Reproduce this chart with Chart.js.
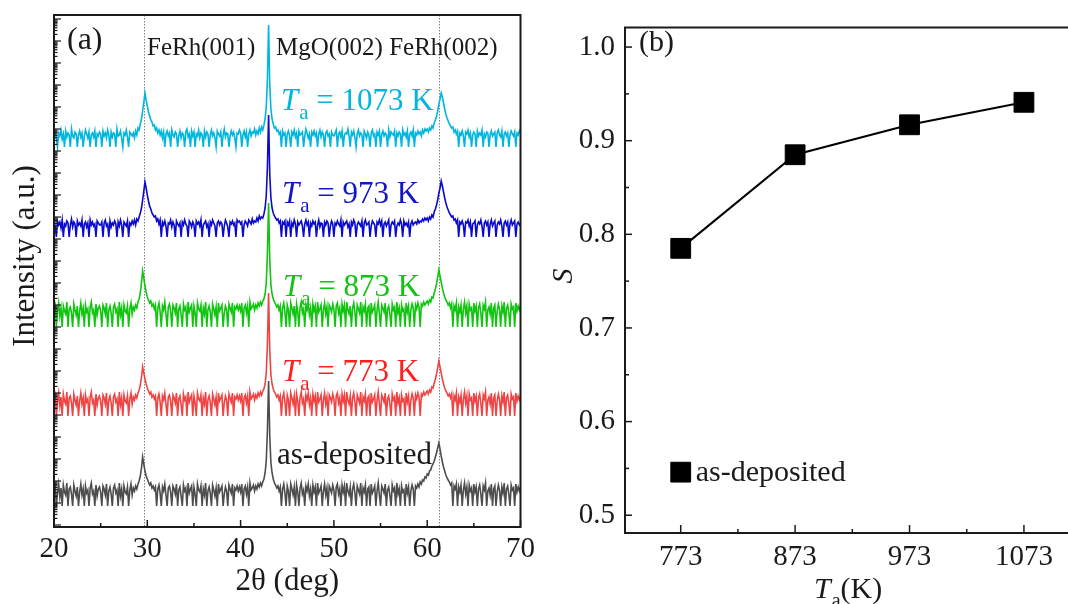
<!DOCTYPE html>
<html>
<head>
<meta charset="utf-8">
<script src="https://cdn.jsdelivr.net/npm/chart.js@4/dist/chart.umd.min.js"></script>
<style>
html, body { margin: 0; padding: 0; background: #fff; overflow: hidden; }
#wrap { position: relative; width: 1068px; height: 604px; }
canvas { position: absolute; top: 0; }
#xrd { left: 0; }
#order { left: 540px; }
</style>
</head>
<body>
<div id="wrap">
	<canvas id="xrd" width="540" height="604"></canvas>
	<canvas id="order" width="528" height="604"></canvas>
</div>
<script>
// (a) XRD scans, 20..70 deg in 0.125 deg steps, one row = 5 deg.
// Intensities in a.u. above each trace's floor; traces are stacked with scanOffsets.
const twoThetaStart = 20
const twoThetaStep = 0.125
const twoThetaTicks = [20, 30, 40, 50, 60, 70]
const peakLines = [29.65, 61.25] // FeRh(001), FeRh(002)
const scanOffsets = [380, 290, 200, 111, 21]

const scan1073 = [
	12,15,9,0,14,11,17,8,13,0,16,10,14,12,0,18,11,9,15,13,0,12,16,10,14,0,11,17,13,9,15,0,12,14,10,16,0,13,11,15,
	13,0,16,11,14,9,17,12,0,15,10,14,13,0,18,11,12,16,9,0,14,12,17,10,0,15,13,11,14,9,16,12,19,17,23,28,36,45,54,47,
	41,35,31,27,25,21,22,17,19,14,17,12,16,9,15,0,13,16,11,14,0,17,12,10,15,13,0,11,16,9,14,12,0,15,18,10,13,0,16,11,
	15,0,13,11,17,9,14,12,0,16,10,15,13,0,12,17,11,14,9,0,16,13,11,15,0,12,18,10,14,13,0,11,16,12,15,9,0,14,13,17,
	14,0,12,16,10,15,0,13,17,11,15,14,18,12,16,13,19,15,20,17,22,28,40,68,122,62,38,28,23,19,20,16,17,13,15,0,16,12,14,0,
	13,16,11,0,15,12,17,10,14,0,16,12,13,15,0,11,18,14,9,13,0,15,12,16,11,14,0,13,17,10,15,12,0,14,16,11,13,0,15,12,
	11,14,17,0,13,15,10,16,0,12,14,13,18,11,0,15,12,16,10,0,13,17,11,14,12,0,16,13,9,15,12,0,14,17,11,13,0,15,12,16,
	0,13,16,11,14,12,0,17,10,15,13,12,16,0,14,11,15,13,0,17,12,14,10,16,0,13,15,11,17,0,14,12,16,13,15,11,17,14,18,16,
	18,15,19,17,21,19,24,27,31,36,43,48,54,50,44,38,33,29,26,23,21,19,20,15,17,13,16,0,14,12,16,11,0,15,13,17,10,14,0,12,
	15,13,0,16,11,14,12,17,0,13,10,15,14,0,12,16,11,13,15,0,14,17,12,10,16,0,13,15,11,14,0,12,16,13,11,15,0,14,12,16,
	13,
]
const scan973 = [
	14,11,0,16,12,15,9,17,0,13,11,16,14,0,12,18,10,15,13,0,16,12,14,11,17,0,13,15,10,14,0,17,12,15,11,13,0,16,14,12,
	12,15,0,14,17,11,13,0,16,10,14,12,16,13,0,15,11,17,12,0,15,13,11,16,0,14,12,16,13,17,12,18,16,20,24,29,37,46,55,49,
	42,36,31,28,24,22,20,21,16,18,13,17,0,15,12,16,11,0,14,13,17,10,15,12,0,16,13,11,14,0,15,12,17,13,11,0,16,14,10,15,
	12,0,16,13,15,11,17,0,12,14,16,10,13,0,15,12,17,14,11,0,14,16,12,15,13,0,11,17,14,10,0,15,13,16,12,14,0,17,15,16,
	13,15,0,12,16,14,11,17,15,13,18,14,16,15,19,16,21,18,20,19,23,29,41,70,122,63,39,29,24,21,19,17,18,14,16,0,15,13,16,0,
	15,12,16,0,14,11,17,13,0,15,12,14,16,11,0,13,17,12,15,0,14,11,16,13,15,0,12,17,10,14,13,0,15,12,16,14,0,11,16,13,
	0,14,12,16,13,11,17,0,15,12,14,16,10,13,0,15,12,17,14,0,12,15,13,11,16,0,14,17,12,13,15,0,11,16,14,12,0,15,13,17,
	12,16,0,13,15,11,14,17,0,12,15,13,16,0,11,14,12,17,13,0,16,12,14,11,15,0,13,16,12,14,15,13,17,14,16,15,18,16,19,17,
	19,16,20,18,22,20,25,28,32,37,44,49,56,51,45,39,34,30,27,24,22,20,21,17,18,14,17,0,15,13,16,12,0,15,14,17,11,15,0,13,
	14,16,0,12,15,13,17,11,0,14,16,12,15,0,13,17,11,14,16,0,12,15,13,17,11,0,14,16,12,15,0,13,17,12,14,16,0,13,15,12,
	14,
]
const scan873 = [
	18,22,0,15,24,11,19,0,21,16,13,25,0,18,20,14,0,23,17,12,21,0,16,24,13,19,0,22,15,18,0,20,25,14,17,0,23,12,19,21,
	16,0,22,19,13,24,0,17,21,14,0,20,23,15,18,0,25,12,19,0,22,16,14,21,0,18,24,13,20,17,22,19,25,28,34,44,56,49,41,35,
	30,27,24,26,21,23,18,22,0,19,24,15,0,21,17,25,13,0,20,23,16,0,22,19,14,24,0,18,21,12,0,23,17,20,0,25,15,19,22,0,
	21,14,0,24,18,16,22,0,19,13,25,0,17,21,15,0,23,18,12,20,0,24,16,19,22,0,14,21,17,0,23,19,15,24,0,20,18,22,17,21,
	16,24,0,19,22,14,21,0,25,18,20,23,17,22,19,24,21,25,22,26,28,33,44,74,124,67,42,33,28,25,23,20,22,17,21,0,19,24,15,0,
	22,17,0,24,19,13,21,0,23,16,0,20,25,14,18,0,22,17,24,12,19,0,23,16,21,0,25,15,18,22,0,17,24,13,20,0,22,19,15,23,
	18,0,21,24,14,19,0,23,16,22,0,25,17,13,21,0,19,24,15,0,22,18,14,25,0,20,16,23,0,19,21,0,24,15,18,22,0,17,25,13,
	0,22,19,15,24,0,18,21,13,0,23,17,20,0,25,14,19,0,22,16,18,0,24,15,21,0,17,23,19,0,22,18,24,20,0,23,21,25,22,24,
	26,23,27,25,30,29,34,38,43,50,57,51,45,39,34,30,27,25,22,24,19,23,0,21,17,24,0,20,15,22,0,18,25,14,21,0,23,17,19,0,
	24,16,21,0,19,23,14,0,22,18,25,0,17,20,13,24,0,19,22,0,16,23,18,0,21,15,25,0,19,22,14,0,23,18,20,0,24,16,21,17,
	21,
]
const scan773 = [
	17,21,0,14,23,10,19,0,22,15,12,24,0,18,20,13,0,22,16,11,20,0,15,23,12,18,0,21,14,17,0,19,24,13,16,0,22,11,18,20,
	15,0,21,18,12,23,0,16,20,13,0,19,22,14,17,0,24,11,18,0,21,15,13,20,0,17,23,12,19,16,21,18,23,26,31,39,49,43,37,32,
	28,25,22,24,19,21,17,20,0,18,22,14,0,20,16,23,12,0,19,21,15,0,21,18,13,23,0,17,20,11,0,22,16,19,0,24,14,18,21,0,
	20,13,0,23,17,15,21,0,18,12,24,0,16,20,14,0,22,17,11,19,0,23,15,18,21,0,13,20,16,0,22,18,14,23,0,19,17,21,16,20,
	15,23,0,18,21,13,20,0,24,17,19,22,16,21,18,23,20,24,21,25,27,32,43,72,123,66,41,32,27,24,22,19,21,16,20,0,18,23,14,0,
	21,16,0,23,18,12,20,0,22,15,0,19,24,13,17,0,21,16,23,11,18,0,22,15,20,0,24,14,17,21,0,16,23,12,19,0,21,18,14,22,
	17,0,20,23,13,18,0,22,15,21,0,24,16,12,20,0,18,23,14,0,21,17,13,24,0,19,15,22,0,18,20,0,23,14,17,21,0,16,24,12,
	0,21,18,14,23,0,17,20,12,0,22,16,19,0,24,13,18,0,21,15,17,0,23,14,20,0,16,22,18,0,21,17,23,19,0,22,20,24,21,23,
	25,22,26,24,29,28,33,37,42,48,55,49,43,37,32,28,25,23,20,22,18,22,0,20,16,23,0,19,14,21,0,17,24,13,20,0,22,16,18,0,
	23,15,20,0,18,22,13,0,21,17,24,0,16,19,12,23,0,18,21,0,15,22,17,0,20,14,24,0,18,21,13,0,22,17,19,0,23,15,20,16,
	20,
]
const scanAsDeposited = [
	16,20,0,13,22,9,18,0,21,14,11,23,0,17,19,12,0,21,15,10,19,0,14,22,11,17,0,20,13,16,0,18,23,12,15,0,21,10,17,19,
	14,0,20,17,11,22,0,15,19,12,0,18,21,13,16,0,23,10,17,0,20,14,12,19,0,16,22,11,18,15,20,17,22,25,30,38,49,42,35,30,
	27,24,21,23,18,20,16,19,0,17,21,13,0,19,15,22,11,0,18,20,14,0,20,17,12,22,0,16,19,10,0,21,15,18,0,23,13,17,20,0,
	19,12,0,22,16,14,20,0,17,11,23,0,15,19,13,0,21,16,10,18,0,22,14,17,20,0,12,19,15,0,21,17,13,22,0,18,16,20,15,19,
	14,22,0,17,20,12,19,0,23,16,18,21,15,20,17,22,19,23,20,24,27,33,45,76,125,70,43,33,27,23,21,18,20,15,19,0,17,22,13,0,
	20,15,0,22,17,11,19,0,21,14,0,18,23,12,16,0,20,15,22,10,17,0,21,14,19,0,23,13,16,20,0,15,22,11,18,0,20,17,13,21,
	16,0,19,22,12,17,0,21,14,20,0,23,15,11,19,0,17,22,13,0,20,16,12,23,0,18,14,21,0,17,19,0,22,13,16,20,0,15,23,11,
	0,20,17,13,22,0,16,19,11,0,21,15,18,0,23,12,17,0,20,14,16,0,22,13,19,0,15,21,17,0,20,18,22,19,24,22,26,25,29,28,
	32,31,35,36,40,42,45,49,53,58,63,57,50,44,39,35,31,28,26,24,21,23,0,20,17,22,0,19,14,21,0,16,23,12,19,0,21,15,18,0,
	22,14,19,0,17,21,12,0,20,16,23,0,15,18,11,22,0,17,20,0,14,21,16,0,19,13,23,0,17,20,12,0,21,16,18,0,22,14,19,15,
	19,
]

// (b) order parameter vs annealing temperature
const annealTemps = [773, 873, 973, 1073]
const orderParam = [0.785, 0.885, 0.917, 0.941]
const asDepositedS = 0.546
const sTicks = [0.5, 0.6, 0.7, 0.8, 0.9, 1.0]

const serif = "'Liberation Serif', 'Times New Roman', serif"
const ink = '#1a1a1a'

const scans = [
	{ values: scan1073, temp: 1073, color: '#00b6de', text: '#00b6de', at: [281, 110] },
	{ values: scan973, temp: 973, color: '#0a0acd', text: '#1414c8', at: [282, 203] },
	{ values: scan873, temp: 873, color: '#10c410', text: '#10c410', at: [283, 296] },
	{ values: scan773, temp: 773, color: '#f04444', text: '#ff1e1e', at: [282, 381] },
	{ values: scanAsDeposited, temp: null, color: '#4d4d4d', text: ink, at: [277, 464] },
]

const toPoints = (values, offset) => values.map((v, i) => ({ x: twoThetaStart + i * twoThetaStep, y: v + offset }))

const hline = (ctx, x1, x2, y) => {
	ctx.beginPath()
	ctx.moveTo(x1, y)
	ctx.lineTo(x2, y)
	ctx.stroke()
}

const vline = (ctx, x, y1, y2) => {
	ctx.beginPath()
	ctx.moveTo(x, y1)
	ctx.lineTo(x, y2)
	ctx.stroke()
}

// italic T with subscript a, then the rest in roman
const drawTa = (ctx, x, y, rest, size) => {
	ctx.font = `italic ${size}px ${serif}`
	ctx.fillText('T', x, y)
	let w = ctx.measureText('T').width + 1
	ctx.font = `${Math.round(size * 0.68)}px ${serif}`
	ctx.fillText('a', x + w, y + 9)
	w += ctx.measureText('a').width
	ctx.font = `${size}px ${serif}`
	ctx.fillText(rest, x + w, y)
}

const xrdDecor = {
	id: 'xrdDecor',
	beforeDatasetsDraw(chart) {
		const { ctx, chartArea: a, scales: { x } } = chart
		ctx.save()
		ctx.strokeStyle = '#808080'
		ctx.lineWidth = 1
		ctx.setLineDash([1.5, 1.5])
		peakLines.forEach(v => vline(ctx, Math.round(x.getPixelForValue(v)) + 0.5, a.top, a.bottom))
		ctx.restore()
	},
	afterDatasetsDraw(chart) {
		const { ctx, chartArea: a, scales: { x, y } } = chart
		ctx.save()
		ctx.strokeStyle = ink
		ctx.lineWidth = 2
		ctx.strokeRect(a.left, a.top, a.right - a.left, a.bottom - a.top)

		ctx.lineWidth = 1.5
		twoThetaTicks.forEach(v => vline(ctx, x.getPixelForValue(v), a.bottom, a.bottom - 7))
		for (let v = 25; v < 70; v += 10) vline(ctx, x.getPixelForValue(v), a.bottom, a.bottom - 4)

		// log-style ticks on the intensity axis
		ctx.lineWidth = 1.2
		for (let major = 2; major <= 512; major += 22) {
			hline(ctx, a.left, a.left + 7, y.getPixelForValue(major))
			for (let m = 2; m <= 9; m++) {
				const v = major + 22 * Math.log10(m)
				if (v < 512) hline(ctx, a.left, a.left + 3.5, y.getPixelForValue(v))
			}
		}

		ctx.textAlign = 'left'
		ctx.textBaseline = 'alphabetic'
		ctx.fillStyle = ink
		ctx.font = `32px ${serif}`
		ctx.fillText('(a)', 67, 49)
		ctx.font = `25px ${serif}`
		ctx.fillText('FeRh(001)', 147, 55)
		ctx.fillText('MgO(002) FeRh(002)', 276, 55)

		scans.forEach(s => {
			ctx.fillStyle = s.text
			if (s.temp) {
				drawTa(ctx, s.at[0], s.at[1], ` = ${s.temp} K`, 31)
			} else {
				ctx.font = `31px ${serif}`
				ctx.fillText('as-deposited', s.at[0], s.at[1])
			}
		})

		ctx.fillStyle = ink
		ctx.font = `31px ${serif}`
		ctx.textAlign = 'center'
		ctx.fillText('2θ (deg)', (a.left + a.right) / 2, 590)

		ctx.translate(34, 256)
		ctx.rotate(-Math.PI / 2)
		ctx.fillText('Intensity (a.u.)', 0, 0)
		ctx.restore()
	},
}

const orderDecor = {
	id: 'orderDecor',
	afterDatasetsDraw(chart) {
		const { ctx, chartArea: a, scales: { x, y } } = chart
		ctx.save()
		ctx.strokeStyle = ink
		ctx.lineWidth = 2
		ctx.beginPath()
		ctx.moveTo(chart.width, a.top)
		ctx.lineTo(a.left, a.top)
		ctx.lineTo(a.left, a.bottom)
		ctx.lineTo(chart.width, a.bottom)
		ctx.stroke()

		ctx.lineWidth = 1.5
		sTicks.forEach(v => hline(ctx, a.left, a.left + 7, y.getPixelForValue(v)))
		for (let v = 0.55; v < 1; v += 0.1) hline(ctx, a.left, a.left + 4, y.getPixelForValue(v))
		annealTemps.forEach(v => vline(ctx, x.getPixelForValue(v), a.bottom, a.bottom - 8))
		for (let v = 823; v < 1073; v += 100) vline(ctx, x.getPixelForValue(v), a.bottom, a.bottom - 4)

		ctx.fillStyle = ink
		ctx.textAlign = 'left'
		ctx.textBaseline = 'alphabetic'
		ctx.font = `30px ${serif}`
		ctx.fillText('(b)', 99, 51)
		ctx.fillText('as-deposited', x.getPixelForValue(annealTemps[0]) + 15, 481)

		drawTa(ctx, 274, 598, '(K)', 30)

		ctx.translate(32, 276)
		ctx.rotate(-Math.PI / 2)
		ctx.textAlign = 'center'
		ctx.font = `italic 30px ${serif}`
		ctx.fillText('S', 0, 0)
		ctx.restore()
	},
}

const tickFont = { family: serif, size: 29 }

new Chart(document.getElementById('xrd'), {
	type: 'line',
	data: {
		datasets: scans.map((s, i) => ({
			data: toPoints(s.values, scanOffsets[i]),
			borderColor: s.color,
			borderWidth: 1.6,
			pointRadius: 0,
			order: scans.length - i,
		})),
	},
	options: {
		responsive: false,
		animation: false,
		devicePixelRatio: 1,
		events: [],
		layout: { padding: { left: 54, right: 14, top: 15, bottom: 0 } },
		plugins: { legend: { display: false }, tooltip: { enabled: false } },
		scales: {
			x: {
				type: 'linear',
				min: 20,
				max: 70,
				afterFit: s => { s.height = 77 },
				afterBuildTicks: s => { s.ticks = twoThetaTicks.map(value => ({ value })) },
				grid: { display: false, drawTicks: false },
				border: { display: false },
				ticks: { font: tickFont, color: ink, padding: 5, maxRotation: 0, autoSkip: false },
			},
			y: { display: false, min: 0, max: 512 },
		},
	},
	plugins: [xrdDecor],
})

const squarePoint = {
	pointStyle: 'rect',
	pointRadius: 14,
	pointBackgroundColor: '#000',
	pointBorderColor: '#000',
	pointBorderWidth: 1,
}

new Chart(document.getElementById('order'), {
	type: 'line',
	data: {
		datasets: [
			{
				data: annealTemps.map((t, i) => ({ x: t, y: orderParam[i] })),
				borderColor: '#000',
				borderWidth: 2,
				...squarePoint,
			},
			{
				data: [{ x: annealTemps[0], y: asDepositedS }],
				showLine: false,
				...squarePoint,
			},
		],
	},
	options: {
		responsive: false,
		animation: false,
		devicePixelRatio: 1,
		events: [],
		clip: false,
		layout: { padding: { left: 0, right: 0, top: 15, bottom: 0 } },
		plugins: { legend: { display: false }, tooltip: { enabled: false } },
		scales: {
			x: {
				type: 'linear',
				min: 724.3,
				max: 1098.4,
				afterFit: s => { s.height = 71 },
				afterBuildTicks: s => { s.ticks = annealTemps.map(value => ({ value })) },
				grid: { display: false, drawTicks: false },
				border: { display: false },
				ticks: { font: tickFont, color: ink, padding: 7, maxRotation: 0, autoSkip: false, callback: v => String(v) },
			},
			y: {
				min: 0.481,
				max: 1.021,
				afterFit: s => { s.width = 85 },
				afterBuildTicks: s => { s.ticks = sTicks.map(value => ({ value })) },
				grid: { display: false, drawTicks: false },
				border: { display: false },
				ticks: { font: tickFont, color: ink, padding: 10, callback: v => v.toFixed(1) },
			},
		},
	},
	plugins: [orderDecor],
})
</script>
</body>
</html>
